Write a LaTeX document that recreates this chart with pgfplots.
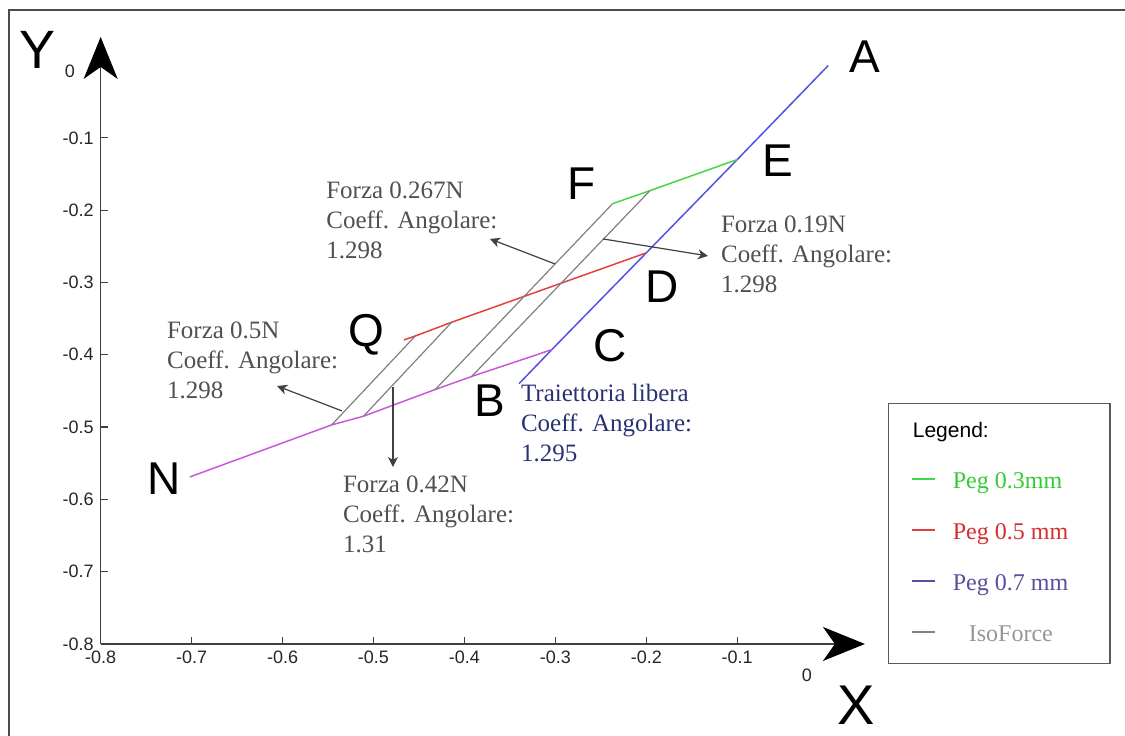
\documentclass[border=0pt]{standalone}
\usepackage{pgfplots}
\pgfplotsset{compat=1.18}
\usepackage{fontspec}
\setmainfont{Liberation Serif}
\newfontfamily\arial{Liberation Sans}
\usetikzlibrary{arrows.meta}
\definecolor{cgreen}{RGB}{70,215,70}
\definecolor{pegred}{RGB}{228,64,64}
\definecolor{cblue}{RGB}{82,82,228}
\definecolor{cmag}{RGB}{200,90,215}
\definecolor{ciso}{RGB}{128,128,128}
\definecolor{annot}{RGB}{80,80,80}
\definecolor{navy}{RGB}{40,50,115}
\definecolor{lgreen}{RGB}{50,205,50}
\definecolor{lred}{RGB}{215,45,45}
\definecolor{lpurple}{RGB}{95,75,160}
\definecolor{lgray}{RGB}{150,150,150}
\newcommand{\ann}[6]{%
  \node[anchor=base west,inner sep=0pt,text=#6,font=\fontsize{12.5}{14}\selectfont] at (axis cs:#1,#2) {#3};
  \node[anchor=base west,inner sep=0pt,text=#6,font=\fontsize{12.5}{14}\selectfont,yshift=-15pt] at (axis cs:#1,#2) {#4};
  \node[anchor=base west,inner sep=0pt,text=#6,font=\fontsize{12.5}{14}\selectfont,yshift=-30pt] at (axis cs:#1,#2) {#5};}
\newcommand{\ptlabel}[3]{\node[font=\arial\fontsize{23}{23}\selectfont,text height=16.5pt,text depth=0pt,inner sep=0pt] at (axis cs:#1,#2) {#3};}
\begin{document}
\begin{tikzpicture}
\begin{axis}[
  x=454.7pt, y=361.5pt,
  xmin=-0.8, xmax=0.0404, ymin=-0.8, ymax=0.0396,
  enlargelimits=false, clip=false,
  axis lines=left,
  axis line style={draw=black!75, line width=0.75pt, -{Stealth[length=21pt,width=17pt,inset=6pt,color=black]}},
  xtick={-0.8,-0.7,-0.6,-0.5,-0.4,-0.3,-0.2,-0.1},
  xticklabels={{-0.8},{-0.7},{-0.6},{-0.5},{-0.4},{-0.3},{-0.2},{-0.1}},
  ytick={-0.8,-0.7,-0.6,-0.5,-0.4,-0.3,-0.2,-0.1},
  yticklabels={{-0.8},{-0.7},{-0.6},{-0.5},{-0.4},{-0.3},{-0.2},{-0.1}},
  tick align=inside, major tick length=3.5pt,
  tick style={draw=black!75, line width=0.6pt},
  ticklabel style={font=\arial\fontsize{9}{10}\selectfont, text=black!85},
  legend style={at={(axis cs:0.0657,-0.4667)}, anchor=north west,
    draw=black!65, line width=0.75pt, inner xsep=11pt, inner ysep=8pt,
    row sep=13.5pt,
    nodes={inner sep=0pt, text height=9pt, text depth=3pt, font=\fontsize{12}{14}\selectfont},
    /tikz/every odd column/.append style={column sep=8.5pt}},
  legend cell align=left,
  legend image code/.code={\draw[#1, line width=1.1pt] (0pt,2pt) -- (11.5pt,2pt);},
]
% Peg 0.7 mm (free trajectory, blue)
\addplot[draw=cblue, line width=0.75pt, forget plot] coordinates {(-0.340,-0.440) (-0.304,-0.393) (-0.200,-0.259) (-0.100,-0.130) (0,0)};
% lower trajectory N-C (magenta)
\addplot[draw=cmag, line width=0.75pt, forget plot] coordinates {(-0.702,-0.569) (-0.546,-0.497) (-0.511,-0.485) (-0.432,-0.448) (-0.392,-0.430) (-0.304,-0.393)};
% Peg 0.5 mm (Q-D, red)
\addplot[draw=pegred, line width=0.75pt, forget plot] coordinates {(-0.4665,-0.3795) (-0.454,-0.374) (-0.414,-0.355) (-0.200,-0.259)};
% Peg 0.3 mm (F-E, green)
\addplot[draw=cgreen, line width=0.75pt, forget plot] coordinates {(-0.237,-0.191) (-0.196,-0.173) (-0.100,-0.130)};
% IsoForce lines
\addplot[draw=ciso, line width=0.6pt, forget plot] coordinates {(-0.546,-0.497) (-0.454,-0.374)};
\addplot[draw=ciso, line width=0.6pt, forget plot] coordinates {(-0.511,-0.485) (-0.414,-0.355)};
\addplot[draw=ciso, line width=0.6pt, forget plot] coordinates {(-0.432,-0.448) (-0.237,-0.191)};
\addplot[draw=ciso, line width=0.6pt, forget plot] coordinates {(-0.392,-0.430) (-0.196,-0.173)};
% legend
\addlegendimage{empty legend}\addlegendentry{\hspace*{-20pt}{\arial\fontsize{10.5}{12}\selectfont Legend:}}
\addlegendimage{draw=cgreen}\addlegendentry{\textcolor{lgreen}{Peg 0.3mm}}
\addlegendimage{draw=pegred}\addlegendentry{\textcolor{lred}{Peg 0.5 mm}\hspace*{10pt}}
\addlegendimage{draw=lpurple}\addlegendentry{\textcolor{lpurple}{Peg 0.7 mm}}
\addlegendimage{draw=ciso}\addlegendentry{\hspace*{8pt}\textcolor{lgray}{IsoForce}}
% annotation arrows
\draw[black!75, line width=0.6pt, -{Stealth[length=5pt,width=5pt,inset=1.5pt]}] (axis cs:-0.3004,-0.2744) -- (axis cs:-0.3719,-0.2398);
\draw[black!75, line width=0.6pt, -{Stealth[length=5pt,width=5pt,inset=1.5pt]}] (axis cs:-0.2476,-0.2398) -- (axis cs:-0.1322,-0.2633);
\draw[black!75, line width=0.6pt, -{Stealth[length=5pt,width=5pt,inset=1.5pt]}] (axis cs:-0.5346,-0.4777) -- (axis cs:-0.6060,-0.4432);
\draw[black!75, line width=0.6pt, -{Stealth[length=5pt,width=5pt,inset=1.5pt]}] (axis cs:-0.4786,-0.4445) -- (axis cs:-0.4786,-0.5552);
% annotation texts
\ann{-0.5523}{-0.1845}{Forza 0.267N}{Coeff. Angolare:}{1.298}{annot}
\ann{-0.1182}{-0.2315}{Forza 0.19N}{Coeff. Angolare:}{1.298}{annot}
\ann{-0.7274}{-0.3781}{Forza 0.5N}{Coeff. Angolare:}{1.298}{annot}
\ann{-0.5339}{-0.5907}{Forza 0.42N}{Coeff. Angolare:}{1.31}{annot}
\ann{-0.3382}{-0.4649}{Traiettoria libera}{Coeff. Angolare:}{1.295}{navy}
% point letters
\ptlabel{0.0404}{0.0133}{A}
\ptlabel{-0.0552}{-0.1306}{E}
\ptlabel{-0.2707}{-0.1624}{F}
\ptlabel{-0.1828}{-0.3048}{D}
\ptlabel{-0.2400}{-0.3864}{C}
\ptlabel{-0.3719}{-0.4625}{B}
\ptlabel{-0.5083}{-0.3657}{Q}
\ptlabel{-0.7304}{-0.5704}{N}
\node[font=\arial\fontsize{27}{27}\selectfont,text height=19.5pt,text depth=0pt,inner sep=0pt] at (axis cs:-0.870,0.0230) {Y};
\node[font=\arial\fontsize{28}{28}\selectfont,text height=20pt,text depth=0pt,inner sep=0pt] at (axis cs:0.0305,-0.8844) {X};
\node[font=\arial\fontsize{9}{10}\selectfont,text=black!85,inner sep=0pt] at (axis cs:-0.0233,-0.8429) {0};
\node[font=\arial\fontsize{9}{10}\selectfont,text=black!85,inner sep=0pt] at (axis cs:-0.8338,-0.0075) {0};
% frame
\draw[black!70, line width=0.6pt] (axis cs:-0.9008,-0.9272) -- (axis cs:-0.9008,0.0769) -- (axis cs:0.3264,0.0769);
\coordinate (BL) at (axis cs:-0.9107,-0.9272);
\coordinate (TR) at (axis cs:0.3264,0.0907);
\end{axis}
\pgfresetboundingbox
\path[use as bounding box] (BL) rectangle (TR);
\end{tikzpicture}
\end{document}
